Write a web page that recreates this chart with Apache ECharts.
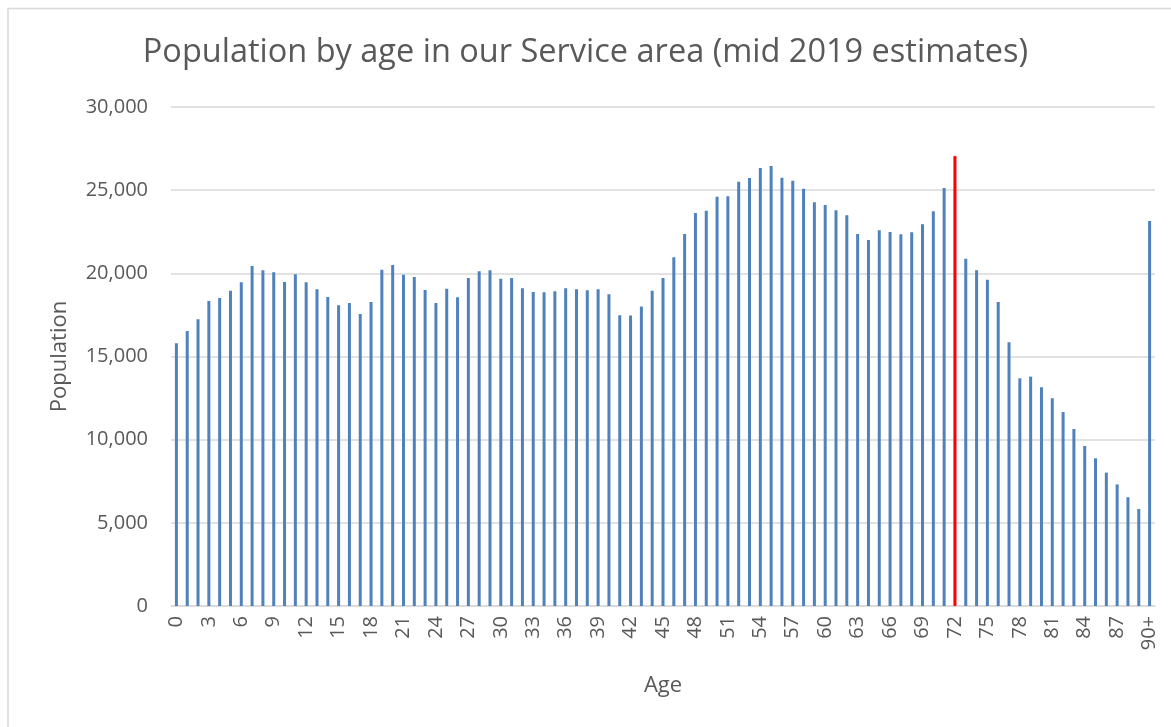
<!DOCTYPE html>
<html>
<head>
<meta charset="utf-8">
<script src="https://cdn.jsdelivr.net/npm/echarts@6/dist/echarts.min.js"></script>
<style>
  html, body { margin: 0; padding: 0; background: #ffffff; }
  #chart { width: 1171px; height: 727px; }
</style>
</head>
<body>
<div id="chart"></div>
<script>
// Single-year ages 0..89 plus the open-ended 90+ group
const ages = [];
for (let a = 0; a < 90; a++) ages.push(String(a));
ages.push('90+');

// Mid-2019 population estimates by age
const population = [
  15800, 16530, 17240, 18340, 18520, 18960, 19460, 20440, 20180, 20060,
  19480, 19940, 19460, 19040, 18580, 18080, 18220, 17560, 18280, 20220,
  20500, 19920, 19780, 19000, 18220, 19080, 18560, 19720, 20120, 20180,
  19680, 19720, 19100, 18880, 18860, 18920, 19100, 19040, 18980, 19040,
  18740, 17480, 17460, 18000, 18960, 19720, 20960, 22370, 23630, 23770,
  24610, 24630, 25510, 25730, 26330, 26450, 25750, 25570, 25090, 24270,
  24110, 23790, 23490, 22370, 22000, 22590, 22490, 22350, 22470, 22950,
  23730, 25130, 27050, 20880, 20180, 19620, 18280, 15850, 13690, 13790,
  13150, 12490, 11660, 10640, 9620, 8880, 8020, 7310, 6540, 5830,
  23150
];

// Age group picked out in red
const highlightAge = '72';

const yTicks = { min: 0, max: 30000, interval: 5000 };

const textColor = '#595959';
const barColor = '#4F81BD';
const font = 'Open Sans';

const seriesData = population.map((v, i) => {
  if (ages[i] === highlightAge) {
    return { value: v, itemStyle: { color: '#FF0000', borderColor: '#FF0000', borderWidth: 0.6 } };
  }
  return v;
});

const chart = echarts.init(document.getElementById('chart'), null, { renderer: 'canvas' });
chart.setOption({
  backgroundColor: '#ffffff',
  animation: false,
  textStyle: { fontFamily: font },
  title: {
    text: 'Population by age in our Service area (mid 2019 estimates)',
    left: 'center',
    top: 31,
    textStyle: { fontFamily: font, fontSize: 32.5, fontWeight: 'normal', color: textColor }
  },
  graphic: [
    {
      type: 'polyline',
      shape: { points: [[8, 740], [8, 8.5], [1180, 8.5]] },
      style: { stroke: '#D9D9D9', lineWidth: 1.5, fill: null },
      silent: true
    }
  ],
  grid: { left: 171, right: 16, top: 107, bottom: 121, containLabel: false },
  xAxis: {
    type: 'category',
    data: ages,
    name: 'Age',
    nameLocation: 'middle',
    nameGap: 69,
    nameTextStyle: { fontFamily: font, fontSize: 22, color: textColor },
    axisLine: { show: true, lineStyle: { color: '#D9D9D9', width: 1.5 } },
    axisTick: { show: false },
    axisLabel: {
      interval: 2,
      rotate: 90,
      margin: 10,
      fontFamily: font,
      fontSize: 20,
      color: textColor
    }
  },
  yAxis: {
    type: 'value',
    min: yTicks.min,
    max: yTicks.max,
    interval: yTicks.interval,
    name: 'Population',
    nameLocation: 'middle',
    nameGap: 100,
    nameTextStyle: { fontFamily: font, fontSize: 22, color: textColor },
    axisLine: { show: false },
    axisTick: { show: false },
    splitLine: { lineStyle: { color: '#D9D9D9', width: 1.5 } },
    axisLabel: {
      margin: 23,
      fontFamily: font,
      fontSize: 20,
      color: textColor,
      formatter: v => v.toLocaleString('en-US')
    }
  },
  series: [
    {
      type: 'bar',
      data: seriesData,
      barWidth: 3,
      itemStyle: { color: barColor }
    }
  ]
});
</script>
</body>
</html>
